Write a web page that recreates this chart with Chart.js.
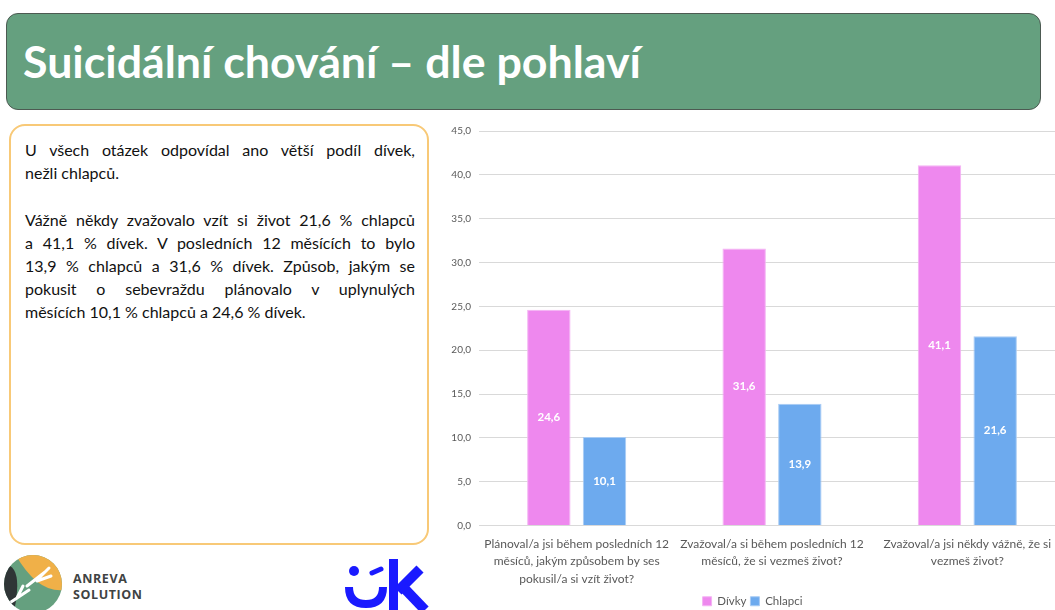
<!DOCTYPE html>
<html>
<head>
<meta charset="utf-8">
<script src="https://cdn.jsdelivr.net/npm/chart.js@4"></script>
<style>
  html, body { margin: 0; padding: 0; width: 1055px; height: 610px; overflow: hidden; background: #fff; }
  #title { position: absolute; left: 6px; top: 13px; width: 1035px; height: 97px; background: #65A07F; border: 1.5px solid #4d5a52; border-radius: 12px; box-sizing: border-box; }
  #title span { position: absolute; left: 16px; top: 22px; font-family: Lato, sans-serif; font-weight: 700; font-size: 43px; color: #fff; white-space: nowrap; transform-origin: left top; }
  #textbox { position: absolute; left: 9px; top: 124px; width: 420px; height: 421px; border: 2px solid #F8C977; border-radius: 16px; box-sizing: border-box; }
  #textbox .l { position: absolute; left: 14px; width: 390px; margin: 0; font-family: Lato, sans-serif; font-size: 16px; line-height: 23px; color: #111; text-align: justify; text-align-last: justify; white-space: nowrap; }
  #textbox .last { text-align-last: left; }
  #wrap { position: absolute; left: 440px; top: 117px; width: 625px; height: 500px; }
  #logo1 { position: absolute; left: 3px; top: 554px; }
  #logoText { position: absolute; left: 73px; top: 571px; font-family: "Open Sans", sans-serif; font-weight: 700; font-size: 12.5px; line-height: 16px; color: #3f4343; letter-spacing: 0.6px; }
  #logo2 { position: absolute; left: 345px; top: 557px; }
</style>
</head>
<body>
<div id="title"><span id="titleText">Suicidální chování – dle pohlaví</span></div>
<div id="textbox">
  <div class="l" style="top:12px">U všech otázek odpovídal ano větší podíl dívek,</div>
  <div class="l last" style="top:35px">nežli chlapců.</div>
  <div class="l" style="top:82px">Vážně někdy zvažovalo vzít si život 21,6 % chlapců</div>
  <div class="l" style="top:105px">a 41,1 % dívek. V posledních 12 měsících to bylo</div>
  <div class="l" style="top:128px">13,9 % chlapců a 31,6 % dívek. Způsob, jakým se</div>
  <div class="l" style="top:151px">pokusit o sebevraždu plánovalo v uplynulých</div>
  <div class="l last" style="top:174px">měsících 10,1 % chlapců a 24,6 % dívek.</div>
</div>
<div id="wrap"><canvas id="c" width="625" height="500"></canvas></div>
<canvas id="logo1" width="62" height="56"></canvas>
<div id="logoText">ANREVA<br>SOLUTION</div>
<svg id="logo2" width="85" height="53" viewBox="0 0 85 53">
  <circle cx="9" cy="14" r="5" fill="#1a1aff"/>
  <path d="M4 30 Q4 47 21 47 Q38 47 38 30" stroke="#1a1aff" stroke-width="8" fill="none"/>
  <path d="M27 16 L36 12" stroke="#1a1aff" stroke-width="5" stroke-linecap="round"/>
  <rect x="44" y="2" width="9" height="51" fill="#1a1aff"/>
  <path d="M53 34 L75 12" stroke="#1a1aff" stroke-width="10"/>
  <path d="M58 30 L80 53" stroke="#1a1aff" stroke-width="10"/>
</svg>
<script>
const categories = [
  ["Plánoval/a jsi během posledních 12", "měsíců, jakým způsobem by ses", "pokusil/a si vzít život?"],
  ["Zvažoval/a si během posledních 12", "měsíců, že si vezmeš život?"],
  ["Zvažoval/a jsi někdy vážně, že si", "vezmeš život?"]
];
const divky = [24.6, 31.6, 41.1];
const chlapci = [10.1, 13.9, 21.6];
const seriesNames = ["Dívky", "Chlapci"];
const yTicks = [0, 5, 10, 15, 20, 25, 30, 35, 40, 45];

const t = document.getElementById('titleText');
const tw = t.getBoundingClientRect().width;
t.style.transform = 'scaleX(' + (618 / tw) + ')';

(function(){
  const c = document.getElementById('logo1').getContext('2d');
  const cx = 30, cy = 30, r = 29;
  c.save();
  c.beginPath(); c.arc(cx, cy, r, 0, Math.PI*2); c.clip();
  c.fillStyle = '#65A07F'; c.fillRect(0,0,62,62);
  c.fillStyle = '#F0B048';
  c.beginPath(); c.moveTo(12,0); c.lineTo(62,0); c.lineTo(62,36); c.quadraticCurveTo(35,40,12,0); c.fill();
  c.fillStyle = '#2f3536';
  c.beginPath(); c.moveTo(0,10); c.quadraticCurveTo(22,10,10,62); c.lineTo(0,62); c.fill();
  c.strokeStyle = '#fff'; c.lineWidth = 3; c.lineCap = 'round';
  c.beginPath(); c.moveTo(24,32); c.lineTo(42,18); c.moveTo(36,24); c.lineTo(46,14); c.moveTo(34,27); c.lineTo(48,22); c.stroke();
  c.beginPath(); c.moveTo(8,48); c.lineTo(26,36); c.moveTo(14,44); c.lineTo(20,32); c.stroke();
  c.restore();
})();

const valueLabels = {
  id: 'valueLabels',
  afterDatasetsDraw(chart) {
    const ctx = chart.ctx;
    ctx.save();
    ctx.fillStyle = '#ffffff';
    ctx.font = 'bold 11.5px Lato, sans-serif';
    ctx.textAlign = 'center';
    ctx.textBaseline = 'middle';
    chart.data.datasets.forEach((ds, i) => {
      chart.getDatasetMeta(i).data.forEach((bar, j) => {
        const y = (bar.y + bar.base) / 2;
        ctx.fillText(ds.data[j].toFixed(1).replace('.', ','), bar.x, y);
      });
    });
    ctx.restore();
  }
};

new Chart(document.getElementById('c'), {
  type: 'bar',
  data: {
    labels: categories,
    datasets: [
      { label: seriesNames[0], data: divky, backgroundColor: '#EE88EE', borderColor: '#F4B4F4', borderWidth: 1 },
      { label: seriesNames[1], data: chlapci, backgroundColor: '#6DAAEE', borderColor: '#A9CCF4', borderWidth: 1 }
    ]
  },
  options: {
    responsive: false,
    animation: false,
    categoryPercentage: 0.57,
    barPercentage: 0.78,
    layout: { padding: { top: 2, right: 0, left: 0, bottom: 0 } },
    plugins: {
      tooltip: { enabled: false },
      legend: {
        position: 'bottom',
        labels: { boxWidth: 9, boxHeight: 9, font: { family: 'Lato, sans-serif', size: 11.5 }, color: '#595959', padding: 4 }
      }
    },
    scales: {
      x: {
        afterFit(s) { s.height = 66; },
        grid: { display: false },
        border: { display: false },
        ticks: { color: '#595959', font: { family: 'Lato, sans-serif', size: 12, lineHeight: 1.45 }, maxRotation: 0, autoSkip: false, padding: 2 }
      },
      y: {
        min: 0, max: 45,
        afterFit(s) { s.width = 39; },
        afterBuildTicks(s) { s.ticks = yTicks.map(v => ({ value: v })); },
        grid: { color: '#D9D9D9', drawTicks: false },
        border: { display: false },
        ticks: { color: '#595959', font: { family: 'Lato, sans-serif', size: 10 }, padding: 8,
          callback: v => v.toFixed(1).replace('.', ',') }
      }
    }
  },
  plugins: [valueLabels]
});
</script>
</body>
</html>
